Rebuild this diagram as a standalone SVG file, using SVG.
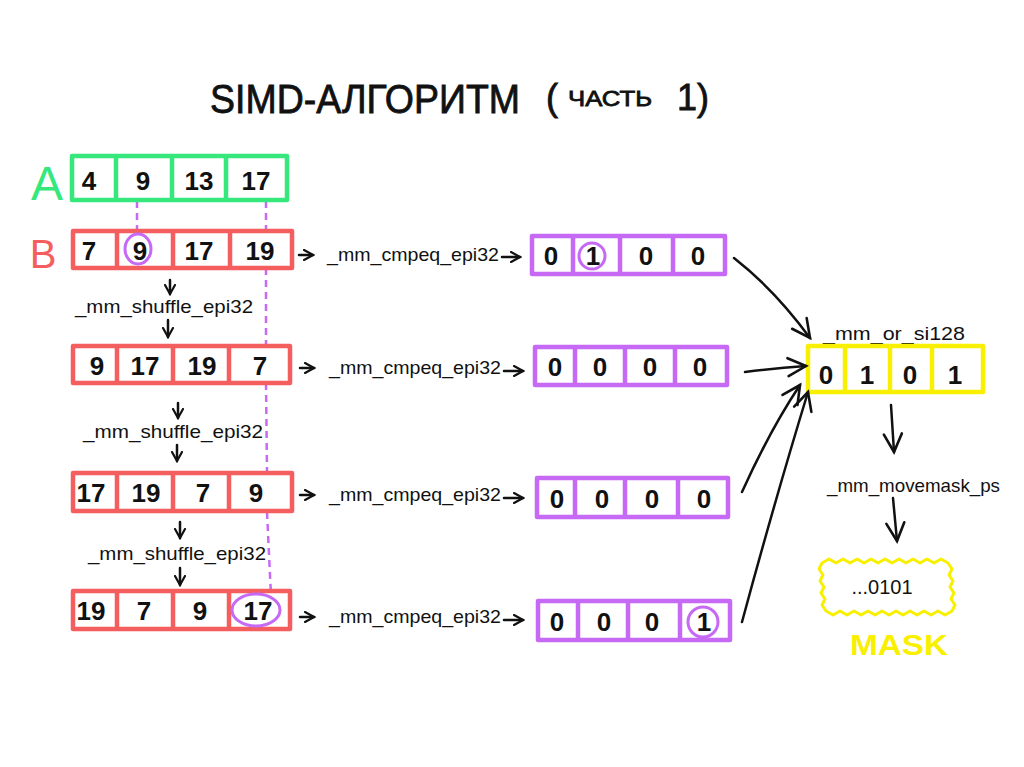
<svg xmlns="http://www.w3.org/2000/svg" width="1024" height="767" viewBox="0 0 1024 767">
<defs>
<style>
.g{fill:#fff;stroke:#36e87c;stroke-width:4.5;stroke-linejoin:round}
.r{fill:#fff;stroke:#f45e5e;stroke-width:4.5;stroke-linejoin:round}
.p{fill:#fff;stroke:#c66af6;stroke-width:4.5;stroke-linejoin:round}
.y{fill:#fff;stroke:#f8f000;stroke-width:4.5;stroke-linejoin:round}
.dg{stroke:#36e87c;stroke-width:4.5}
.dr{stroke:#f45e5e;stroke-width:4.5}
.dp{stroke:#c66af6;stroke-width:4.5}
.dy{stroke:#f8f000;stroke-width:4.5}
.n{font-family:"Liberation Sans",Arial,sans-serif;font-weight:bold;font-size:26px;fill:#111;text-anchor:middle}
.l{font-family:"Liberation Sans",Arial,sans-serif;font-size:19px;fill:#111}
.t{font-family:"Liberation Sans",Arial,sans-serif;fill:#111;stroke:#111;stroke-width:0.8}
.c{fill:none;stroke:#111;stroke-width:2.5;stroke-linecap:round;stroke-linejoin:round}
.ring{fill:none;stroke:#c66af6;stroke-width:3}
.dash{fill:none;stroke:#c66af6;stroke-width:2.5;stroke-dasharray:7 5}
</style>
<marker id="ah" viewBox="0 0 12 12" refX="10" refY="6" markerWidth="12" markerHeight="12" markerUnits="userSpaceOnUse" orient="auto">
<path d="M1,1 L10,6 L1,11" fill="none" stroke="#111" stroke-width="2.2" stroke-linecap="round"/>
</marker>
<marker id="ahb" viewBox="0 0 24 24" refX="21" refY="12" markerWidth="24" markerHeight="24" markerUnits="userSpaceOnUse" orient="auto">
<path d="M3,3 L21,12 L3,21" fill="none" stroke="#111" stroke-width="2.6" stroke-linecap="round"/>
</marker>
</defs>
<rect width="1024" height="767" fill="#fff"/>

<g id="title">
<text class="t" x="210" y="113" font-size="40" textLength="310" lengthAdjust="spacingAndGlyphs">SIMD-АЛГОРИТМ</text>
<text class="t" x="546" y="110" font-size="36">(</text>
<text class="t" x="568" y="106" font-size="22" textLength="84" lengthAdjust="spacingAndGlyphs">ЧАСТЬ</text>
<text class="t" x="677" y="110" font-size="36">1)</text>
</g>

<g id="guides">
<path class="dash" d="M137,201 L137,234"/>
<path class="dash" d="M266,201 L266,232 M266,268 L266,345 M266,383 L267,472 M267,512 L271,596"/>
</g>

<g id="vecA">
<text x="47" y="200" font-family="Liberation Sans,Arial,sans-serif" font-size="48" fill="#36e87c" text-anchor="middle">A</text>
<rect class="g" x="72" y="156" width="215" height="44"/>
<path class="dg" d="M116,156 V200 M172,156 V200 M226,156 V200"/>
<text class="n" x="89" y="190">4</text>
<text class="n" x="143" y="190">9</text>
<text class="n" x="199" y="190">13</text>
<text class="n" x="256" y="190">17</text>
</g>

<g id="vecB">
<text x="43" y="268" font-family="Liberation Sans,Arial,sans-serif" font-size="40" fill="#f45e5e" text-anchor="middle">B</text>
<rect class="r" x="73" y="231" width="219" height="37"/>
<path class="dr" d="M117,231 V268 M173,231 V268 M230,231 V268"/>
<text class="n" x="89" y="260">7</text>
<text class="n" x="140" y="260">9</text>
<text class="n" x="199" y="260">17</text>
<text class="n" x="260" y="260">19</text>
<ellipse class="ring" cx="138" cy="249" rx="13" ry="15"/>
</g>

<g id="shuf1">
<path class="c" d="M170,280 V294" marker-end="url(#ah)"/>
<text class="l" x="75" y="313" textLength="178" lengthAdjust="spacingAndGlyphs">_mm_shuffle_epi32</text>
<path class="c" d="M168,320 V337" marker-end="url(#ah)"/>
</g>

<g id="row2">
<rect class="r" x="73" y="346" width="217" height="37"/>
<path class="dr" d="M117,346 V383 M173,346 V383 M229,346 V383"/>
<text class="n" x="97" y="375">9</text>
<text class="n" x="145" y="375">17</text>
<text class="n" x="202" y="375">19</text>
<text class="n" x="260" y="375">7</text>
</g>

<g id="shuf2">
<path class="c" d="M178,403 V418" marker-end="url(#ah)"/>
<text class="l" x="83" y="438" textLength="180" lengthAdjust="spacingAndGlyphs">_mm_shuffle_epi32</text>
<path class="c" d="M177,445 V461" marker-end="url(#ah)"/>
</g>

<g id="row3">
<rect class="r" x="73" y="473" width="219" height="38"/>
<path class="dr" d="M117,473 V511 M173,473 V511 M229,473 V511"/>
<text class="n" x="91" y="502">17</text>
<text class="n" x="146" y="502">19</text>
<text class="n" x="203" y="502">7</text>
<text class="n" x="256" y="502">9</text>
</g>

<g id="shuf3">
<path class="c" d="M180,522 V538" marker-end="url(#ah)"/>
<text class="l" x="88" y="560" textLength="178" lengthAdjust="spacingAndGlyphs">_mm_shuffle_epi32</text>
<path class="c" d="M180,568 V585" marker-end="url(#ah)"/>
</g>

<g id="row4">
<rect class="r" x="73" y="591" width="217" height="38"/>
<path class="dr" d="M117,591 V629 M173,591 V629 M229,591 V629"/>
<text class="n" x="91" y="620">19</text>
<text class="n" x="144" y="620">7</text>
<text class="n" x="200" y="620">9</text>
<text class="n" x="258" y="620">17</text>
<ellipse class="ring" cx="256" cy="610" rx="24" ry="16"/>
</g>

<g id="cmp1">
<path class="c" d="M299,255 H313" marker-end="url(#ah)"/>
<text class="l" x="327" y="261" textLength="172" lengthAdjust="spacingAndGlyphs">_mm_cmpeq_epi32</text>
<path class="c" d="M502,257 H520" marker-end="url(#ah)"/>
</g>
<g id="cmp2">
<path class="c" d="M300,368 H314" marker-end="url(#ah)"/>
<text class="l" x="329" y="374" textLength="172" lengthAdjust="spacingAndGlyphs">_mm_cmpeq_epi32</text>
<path class="c" d="M504,371 H523" marker-end="url(#ah)"/>
</g>
<g id="cmp3">
<path class="c" d="M300,495 H314" marker-end="url(#ah)"/>
<text class="l" x="329" y="501" textLength="172" lengthAdjust="spacingAndGlyphs">_mm_cmpeq_epi32</text>
<path class="c" d="M504,498 H523" marker-end="url(#ah)"/>
</g>
<g id="cmp4">
<path class="c" d="M300,617 H314" marker-end="url(#ah)"/>
<text class="l" x="329" y="623" textLength="172" lengthAdjust="spacingAndGlyphs">_mm_cmpeq_epi32</text>
<path class="c" d="M504,620 H523" marker-end="url(#ah)"/>
</g>

<g id="res1">
<rect class="p" x="532" y="236" width="193" height="38"/>
<path class="dp" d="M573,236 V274 M620,236 V274 M673,236 V274"/>
<text class="n" x="551" y="265">0</text>
<text class="n" x="593" y="265">1</text>
<text class="n" x="646" y="265">0</text>
<text class="n" x="698" y="265">0</text>
<circle class="ring" cx="592" cy="256" r="13"/>
</g>
<g id="res2">
<rect class="p" x="535" y="347" width="192" height="38"/>
<path class="dp" d="M575,347 V385 M625,347 V385 M675,347 V385"/>
<text class="n" x="555" y="376">0</text>
<text class="n" x="600" y="376">0</text>
<text class="n" x="650" y="376">0</text>
<text class="n" x="700" y="376">0</text>
</g>
<g id="res3">
<rect class="p" x="537" y="478" width="191" height="39"/>
<path class="dp" d="M575,478 V517 M625,478 V517 M678,478 V517"/>
<text class="n" x="557" y="508">0</text>
<text class="n" x="602" y="508">0</text>
<text class="n" x="652" y="508">0</text>
<text class="n" x="704" y="508">0</text>
</g>
<g id="res4">
<rect class="p" x="538" y="601" width="192" height="39"/>
<path class="dp" d="M578,601 V640 M628,601 V640 M680,601 V640"/>
<text class="n" x="557" y="631">0</text>
<text class="n" x="604" y="631">0</text>
<text class="n" x="652" y="631">0</text>
<text class="n" x="704" y="631">1</text>
<circle class="ring" cx="703" cy="622" r="15"/>
</g>

<g id="or">
<text class="l" x="823" y="340" textLength="142" lengthAdjust="spacingAndGlyphs">_mm_or_si128</text>
<rect class="y" x="808" y="346" width="175" height="46"/>
<path class="dy" d="M845,346 V392 M890,346 V392 M932,346 V392"/>
<text class="n" x="826" y="384" font-size="30">0</text>
<text class="n" x="867" y="384" font-size="30">1</text>
<text class="n" x="910" y="384" font-size="30">0</text>
<text class="n" x="955" y="384" font-size="30">1</text>
</g>

<g id="movemask">
<text class="l" x="827" y="492" textLength="173" lengthAdjust="spacingAndGlyphs">_mm_movemask_ps</text>
</g>

<g id="mask">
<path fill="#fff" stroke="#f8f000" stroke-width="3" stroke-linejoin="round" d="M822,563 l7,-4 l7,4 l7,-4 l7,4 l7,-4 l7,4 l7,-4 l7,4 l7,-4 l7,4 l7,-4 l7,4 l7,-4 l7,4 l7,-4 l7,4 l7,-4 l7,4 l4,6 l-3,6 l4,6 l-3,6 l4,6 l-3,6 l4,6 l-3,6 l-7,4 l-7,-4 l-7,4 l-7,-4 l-7,4 l-7,-4 l-7,4 l-7,-4 l-7,4 l-7,-4 l-7,4 l-7,-4 l-7,4 l-7,-4 l-7,4 l-7,-4 l-7,4 l-7,-4 l-4,-6 l3,-6 l-4,-6 l3,-6 l-4,-6 l3,-6 l-4,-6 l3,-6 z"/>
<text x="882" y="594" font-family="Liberation Sans,Arial,sans-serif" font-size="20" fill="#111" text-anchor="middle">...0101</text>
<text x="899" y="655" font-family="Liberation Sans,Arial,sans-serif" font-weight="bold" font-size="30" fill="#f8f000" text-anchor="middle" textLength="98" lengthAdjust="spacingAndGlyphs">MASK</text>
</g>

<g id="connectors">
<path class="c" d="M734,258 Q775,290 810,338" marker-end="url(#ahb)"/>
<path class="c" d="M745,372 Q775,368 806,366" marker-end="url(#ahb)"/>
<path class="c" d="M742,492 Q770,430 800,385" marker-end="url(#ahb)"/>
<path class="c" d="M742,622 Q775,500 808,392" marker-end="url(#ahb)"/>
<path class="c" d="M891,405 L894,452" marker-end="url(#ahb)"/>
<path class="c" d="M893,498 L897,541" marker-end="url(#ahb)"/>
</g>
</svg>
